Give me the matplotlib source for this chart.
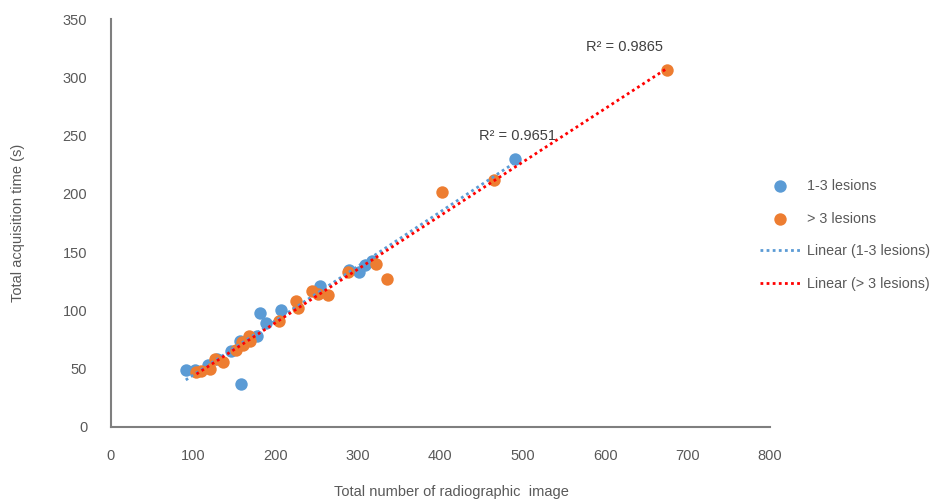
import numpy as np
import matplotlib.pyplot as plt

plt.rcParams["font.family"] = ["Liberation Sans", "DejaVu Sans"]

# 1-3 lesions
blue_x = [91, 102, 118, 129, 146, 158, 157, 177, 181, 188, 206, 254, 289, 301, 308, 317, 490]
blue_y = [48.6, 49, 53, 58, 65, 37, 74, 78, 98, 89, 100, 121, 135, 133, 139, 142, 230]

# > 3 lesions
orange_x = [104, 110, 120, 127, 136, 152, 160, 159, 169, 168, 204, 225, 227, 244,
            251, 263, 288, 322, 335, 402, 465, 675]
orange_y = [47, 48, 50, 58, 56, 66, 70, 73, 74, 78, 91, 108, 102, 117,
            114, 113, 133, 140, 127, 202, 212, 306]

r2_blue = "R² = 0.9651"
r2_orange = "R² = 0.9865"

BLUE = "#5B9BD5"
ORANGE = "#ED7D31"
GRAY = "#595959"

fig = plt.figure(figsize=(9.39, 5.04), dpi=100)
ax = fig.add_axes([0.118, 0.153, 0.702, 0.809])

ax.scatter(blue_x, blue_y, s=80, color=BLUE, zorder=3, label="1-3 lesions", linewidths=0)
ax.scatter(orange_x, orange_y, s=80, color=ORANGE, zorder=4, label="> 3 lesions", linewidths=0)

# linear trend lines
bx = np.array(blue_x, dtype=float)
ox = np.array(orange_x, dtype=float)
kb = np.polyfit(bx, blue_y, 1)
ko = np.polyfit(ox, orange_y, 1)
xb = np.array([bx.min(), bx.max()])
xo = np.array([ox.min(), ox.max()])
ax.plot(xb, np.polyval(kb, xb), color=BLUE, ls=(0, (1, 1.2)), lw=2, zorder=5,
        label="Linear (1-3 lesions)")
ax.plot(xo, np.polyval(ko, xo), color="#FF0000", ls=(0, (1, 1.2)), lw=2, zorder=6,
        label="Linear (> 3 lesions)")

ax.text(493, 250, r2_blue, ha="center", va="center", fontsize=10.5, color="#404040")
ax.text(624, 326, r2_orange, ha="center", va="center", fontsize=10.5, color="#404040")

ax.set_xlim(0, 800)
ax.set_ylim(0, 350)
ax.set_xticks(range(0, 801, 100))
ax.set_yticks(range(0, 351, 50))
for s in ["top", "right"]:
    ax.spines[s].set_visible(False)
for s in ["left", "bottom"]:
    ax.spines[s].set_color("#7f7f7f")
    ax.spines[s].set_linewidth(1.5)
ax.tick_params(axis="y", length=0, labelsize=10.5, labelcolor=GRAY, pad=17)
ax.tick_params(axis="x", length=0, labelsize=10.5, labelcolor=GRAY, pad=16)

ax.set_xlabel("Total number of radiographic  image", fontsize=10.5, color=GRAY, va="center")
ax.set_ylabel("Total acquisition time (s)", fontsize=10.5, color=GRAY, va="center")
ax.xaxis.set_label_coords(0.517, -0.159)
ax.yaxis.set_label_coords(-0.141, 0.5)

leg = fig.legend(*ax.get_legend_handles_labels(), loc="center left",
                 bbox_to_anchor=(753 / 939, 1 - 235 / 504), frameon=False, borderpad=0,
                 fontsize=10.3, labelcolor=GRAY, handlelength=2.8, labelspacing=1.3,
                 handletextpad=0.45, markerscale=1.0)

fig.savefig("out.png", dpi=100)
